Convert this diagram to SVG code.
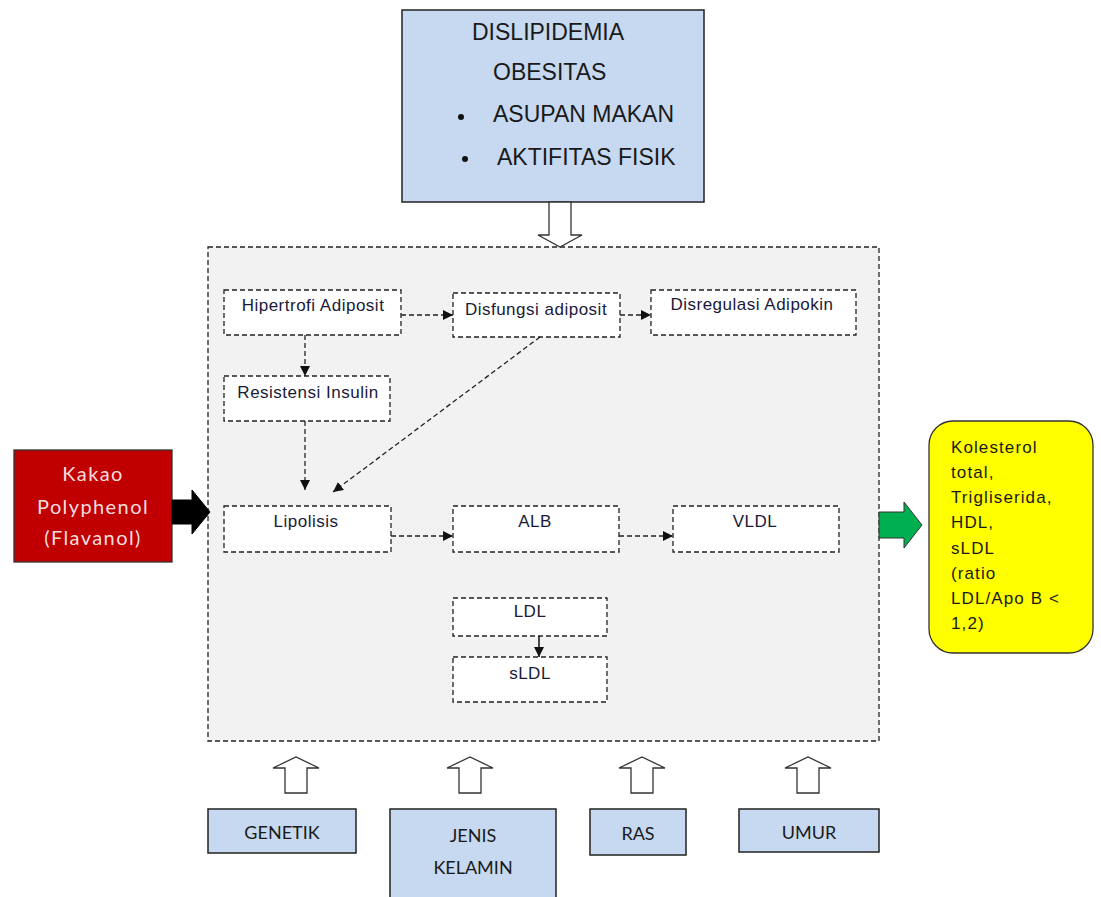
<svg xmlns="http://www.w3.org/2000/svg" width="1101" height="897" viewBox="0 0 1101 897">
<defs>
<style>
.blue{fill:#c6d9f1;stroke:#222;stroke-width:1.5}
.node{fill:#fff;stroke:#222;stroke-width:1.3;stroke-dasharray:5,3}
.t{font-family:"Liberation Sans",Arial,sans-serif;fill:#1a1a1a}
.y{font-family:"Liberation Sans",Arial,sans-serif;font-size:17px;letter-spacing:1.1px;fill:#1a1a1a}
.n{font-family:"Liberation Sans",Arial,sans-serif;font-size:17px;letter-spacing:0.5px;fill:#1a1a3a;text-anchor:middle}
.c{font-family:Lato,"Open Sans",sans-serif;font-size:18px;fill:#1a1a1a;text-anchor:middle}
.k{font-family:Lato,"Open Sans",sans-serif;font-size:20px;letter-spacing:1.4px;fill:#f6dede;text-anchor:middle}
.edge{fill:none;stroke:#222;stroke-width:1.3;stroke-dasharray:5,3}
.hollow{fill:#fff;stroke:#333;stroke-width:1.3}
</style>
<marker id="ah" viewBox="0 0 10 10" refX="10" refY="5" markerWidth="10" markerHeight="10" markerUnits="userSpaceOnUse" orient="auto">
<path d="M0,0 L10,5 L0,10 z" fill="#111"/>
</marker>
</defs>
<rect width="1101" height="897" fill="#fff"/>

<g id="container">
<rect x="208" y="247" width="671" height="494" fill="#f2f2f2" stroke="#222" stroke-width="1.3" stroke-dasharray="5,3"/>
</g>

<g id="top">
<rect x="402" y="10" width="302" height="192" class="blue"/>
<text class="t" font-size="23" x="472" y="40">DISLIPIDEMIA</text>
<text class="t" font-size="23" x="493" y="80">OBESITAS</text>
<circle cx="461" cy="117" r="3" fill="#111"/>
<text class="t" font-size="23" x="493" y="122">ASUPAN MAKAN</text>
<circle cx="465" cy="159" r="3" fill="#111"/>
<text class="t" font-size="23" x="497" y="165">AKTIFITAS FISIK</text>
</g>

<g id="kakao">
<rect x="14" y="450" width="158" height="112" fill="#c00000" stroke="#333" stroke-width="1.3"/>
<text class="k" x="93" y="481">Kakao</text>
<text class="k" x="93" y="514">Polyphenol</text>
<text class="k" x="93" y="545">(Flavanol)</text>
</g>

<g id="hasil">
<rect x="929" y="421" width="164" height="232" rx="24" fill="#ffff00" stroke="#333" stroke-width="1.3"/>
<text class="y" x="951" y="453">Kolesterol</text>
<text class="y" x="951" y="478">total,</text>
<text class="y" x="951" y="503">Trigliserida,</text>
<text class="y" x="951" y="528">HDL,</text>
<text class="y" x="951" y="554">sLDL</text>
<text class="y" x="951" y="579">(ratio</text>
<text class="y" x="951" y="604">LDL/Apo B &lt;</text>
<text class="y" x="951" y="629">1,2)</text>
</g>

<g id="n-hipertrofi"><rect x="224" y="290" width="177" height="45" class="node"/><text class="n" x="313" y="311">Hipertrofi Adiposit</text></g>
<g id="n-disfungsi"><rect x="453" y="293" width="167" height="44" class="node"/><text class="n" x="536" y="315">Disfungsi adiposit</text></g>
<g id="n-disregulasi"><rect x="651" y="290" width="205" height="45" class="node"/><text class="n" x="752" y="310">Disregulasi Adipokin</text></g>
<g id="n-resistensi"><rect x="224" y="376" width="166" height="45" class="node"/><text class="n" x="308" y="398">Resistensi Insulin</text></g>
<g id="n-lipolisis"><rect x="224" y="506" width="167" height="46" class="node"/><text class="n" x="306" y="527">Lipolisis</text></g>
<g id="n-alb"><rect x="453" y="506" width="166" height="46" class="node"/><text class="n" x="535" y="527">ALB</text></g>
<g id="n-vldl"><rect x="673" y="506" width="166" height="46" class="node"/><text class="n" x="755" y="527">VLDL</text></g>
<g id="n-ldl"><rect x="453" y="598" width="154" height="38" class="node"/><text class="n" x="530" y="617">LDL</text></g>
<g id="n-sldl"><rect x="453" y="657" width="154" height="45" class="node"/><text class="n" x="530" y="679">sLDL</text></g>

<g id="b-genetik"><rect x="208" y="809" width="148" height="44" class="blue"/><text class="c" x="282" y="839">GENETIK</text></g>
<g id="b-jenis"><rect x="390" y="809" width="166" height="92" class="blue"/><text class="c" x="473" y="842">JENIS</text><text class="c" x="473" y="874">KELAMIN</text></g>
<g id="b-ras"><rect x="590" y="809" width="96" height="46" class="blue"/><text class="c" x="638" y="840">RAS</text></g>
<g id="b-umur"><rect x="739" y="809" width="140" height="43" class="blue"/><text class="c" x="809" y="839">UMUR</text></g>

<g id="connectors">
<path class="edge" d="M401,315 H453" marker-end="url(#ah)"/>
<path class="edge" d="M620,315 H651" marker-end="url(#ah)"/>
<path class="edge" d="M305,335 V376" marker-end="url(#ah)"/>
<path class="edge" d="M305,421 V490" marker-end="url(#ah)"/>
<path class="edge" d="M540,337 L333,492" marker-end="url(#ah)"/>
<path class="edge" d="M391,536 H453" marker-end="url(#ah)"/>
<path class="edge" d="M619,536 H673" marker-end="url(#ah)"/>
<path d="M539,636 V657" stroke="#111" stroke-width="1.5" fill="none" marker-end="url(#ah)"/>
<path class="hollow" d="M549,202 H571 V235 H582 L560,247 L538,235 H549 Z"/>
<path d="M172,500 H192 V490 L210,512 L192,534 V524 H172 Z" fill="#000" stroke="#000"/>
<path d="M879,512 H904 V502 L922,525 L904,548 V538 H879 Z" fill="#00b050" stroke="#333" stroke-width="1"/>
<path class="hollow" d="M285,793 V768 H273 L296,757 L319,768 H307 V793 Z"/>
<path class="hollow" d="M459,793 V768 H447 L470,757 L493,768 H481 V793 Z"/>
<path class="hollow" d="M631,793 V768 H619 L642,757 L665,768 H653 V793 Z"/>
<path class="hollow" d="M797,793 V768 H785 L808,757 L831,768 H819 V793 Z"/>
</g>
</svg>
